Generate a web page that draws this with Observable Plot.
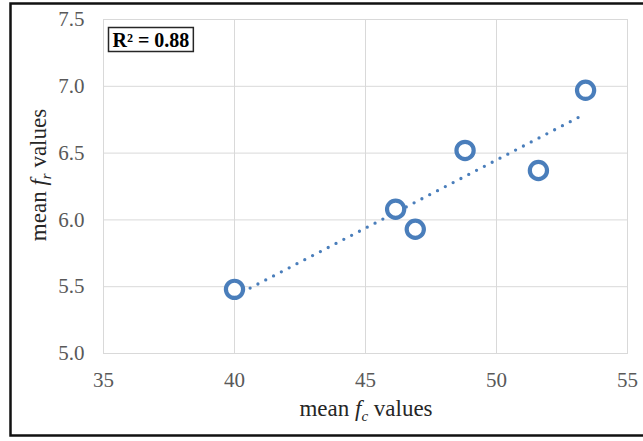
<!DOCTYPE html>
<html>
<head>
<meta charset="utf-8">
<script src="https://cdn.jsdelivr.net/npm/d3@7"></script>
<script src="https://cdn.jsdelivr.net/npm/@observablehq/plot@0.6"></script>
<style>
  html, body { margin: 0; padding: 0; background: #fff; }
  #chart svg { display: block; }
</style>
</head>
<body>
<div id="chart"></div>
<script>
// mean compressive strength f_c and mean f_r for each mix
const fc = [40.0, 46.15, 46.9, 48.8, 51.6, 53.4];
const fr = [5.48, 6.08, 5.93, 6.52, 6.37, 6.97];
const xTicks = [35, 40, 45, 50, 55];
const yTicks = [5.0, 5.5, 6.0, 6.5, 7.0, 7.5];
const r2Label = "R² = 0.88";

const data = fc.map((x, i) => ({x, y: fr[i]}));

const blue = "#4a7ebb";
const grid = "#d9d9d9";
const serif = "Liberation Serif, Times New Roman, serif";

const chart = Plot.plot({
  width: 643,
  height: 441,
  marginLeft: 103,
  marginRight: 16,
  marginTop: 19,
  marginBottom: 88,
  style: {fontFamily: serif, fontSize: "21px", background: "#fff"},
  x: {domain: [35, 55]},
  y: {domain: [5.0, 7.5]},
  marks: [
    Plot.gridX(xTicks, {stroke: grid, strokeOpacity: 1, strokeWidth: 1}),
    Plot.gridY(yTicks, {stroke: grid, strokeOpacity: 1, strokeWidth: 1}),
    Plot.frame({stroke: grid, strokeWidth: 1}),
    Plot.axisX(xTicks, {tickSize: 0, tickPadding: 19, label: null, fill: "#595959", fontSize: 21, tickFormat: d3.format("d")}),
    Plot.axisY(yTicks, {tickSize: 0, tickPadding: 19, label: null, fill: "#595959", fontSize: 21, tickFormat: d3.format(".1f")}),
    Plot.linearRegressionY(data, {
      x: "x", y: "y", ci: 0,
      stroke: blue, strokeWidth: 3.3,
      strokeDasharray: "0 8.8", strokeLinecap: "round"
    }),
    Plot.dot(data, {x: "x", y: "y", r: 8.6, stroke: blue, strokeWidth: 4.2, fill: "#fff"}),
    Plot.text([r2Label], {
      frameAnchor: "top-left", dx: 9, dy: 27,
      textAnchor: "start", lineAnchor: "bottom",
      fontWeight: "bold", fontSize: 20, fill: "#000", className: "r2-label"
    })
  ]
});

document.getElementById("chart").appendChild(chart);

const svg = d3.select(chart);

// box around the R² annotation
const r2 = svg.select(".r2-label text").node();
if (r2) {
  const b = r2.getBBox();
  const ctm = r2.getCTM();
  const x0 = b.x + (ctm ? ctm.e : 0), y0 = b.y + (ctm ? ctm.f : 0);
  svg.insert("rect", ".r2-label")
    .attr("x", x0 - 4).attr("y", y0 - 1)
    .attr("width", b.width + 8).attr("height", b.height + 2)
    .attr("fill", "#fff").attr("stroke", "#262626").attr("stroke-width", 1.5);
}

// axis titles with italic symbols and subscripts
const xt = svg.append("text")
  .attr("x", 366).attr("y", 416)
  .attr("text-anchor", "middle")
  .attr("font-family", serif).attr("font-size", 23).attr("fill", "#262626");
xt.append("tspan").text("mean ");
xt.append("tspan").attr("font-style", "italic").text("f");
xt.append("tspan").attr("font-style", "italic").attr("font-size", 15).attr("dy", 5).text("c");
xt.append("tspan").attr("dy", -5).text(" values");

const yt = svg.append("text")
  .attr("transform", "translate(46,175) rotate(-90)")
  .attr("text-anchor", "middle")
  .attr("font-family", serif).attr("font-size", 23).attr("fill", "#262626");
yt.append("tspan").text("mean ");
yt.append("tspan").attr("font-style", "italic").text("f");
yt.append("tspan").attr("font-style", "italic").attr("font-size", 15).attr("dy", 5).text("r");
yt.append("tspan").attr("dy", -5).text(" values");

// outer frame (open on the right)
svg.append("path")
  .attr("d", "M660,3.5H10.5V435.5H660")
  .attr("fill", "none").attr("stroke", "#111").attr("stroke-width", 2.5);
</script>
</body>
</html>
